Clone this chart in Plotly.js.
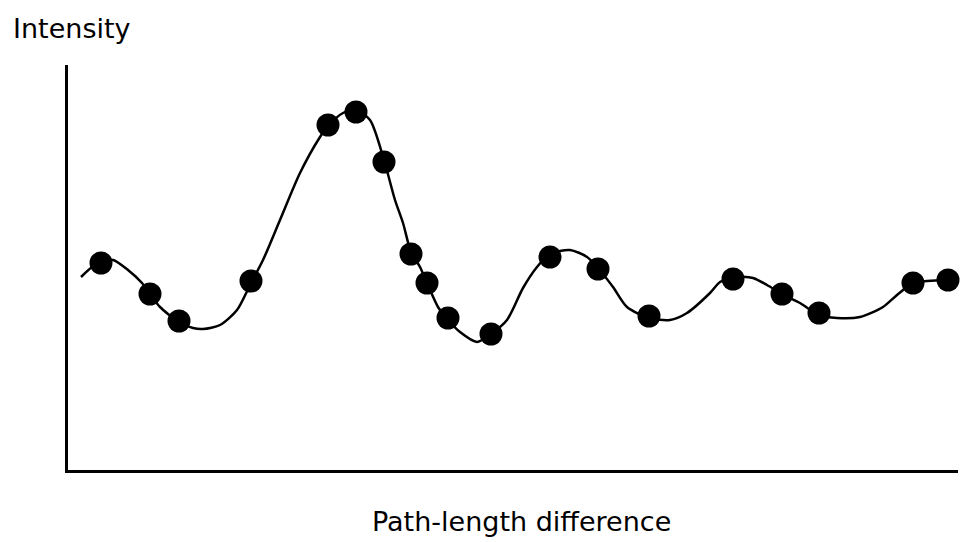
<!DOCTYPE html>
<html>
<head>
<meta charset="utf-8">
<script src="https://cdn.plot.ly/plotly-3.0.1.min.js"></script>
<style>html,body{margin:0;padding:0;background:#fff;}#chart{width:960px;height:542px;}</style>
</head>
<body>
<div id="chart"></div>
<script>
// Measured intensity points (arbitrary units)
const pointX = [33, 82, 111, 183, 260, 288, 316, 343, 359, 380, 423, 482, 530, 581, 665, 714, 751, 845, 880];
const pointY = [207, 176, 149, 189, 345, 358, 308, 216, 187, 152, 136, 213, 201, 154, 191, 176, 157, 187, 190];

// Smooth fitted curve
const curveX = [13, 24, 33, 45, 60, 74, 82, 92, 111, 125, 135, 152, 169, 183, 195, 212, 232, 252, 260, 275,
                288, 302, 316, 327, 335, 343, 352, 359, 370, 380, 392, 409, 423, 439, 455, 469, 482, 502, 519, 530,
                545, 559, 581, 602, 619, 642, 652, 665, 685, 699, 714, 732, 751, 769, 792, 815, 829, 845, 859, 880, 890];
const curveY = [193, 203, 208, 210, 200, 187, 176, 163, 148, 142, 141, 145, 160, 187, 210, 250, 297, 333, 344, 357,
                360, 350, 310, 270, 247, 218, 203, 187, 163, 150, 138, 128, 136, 150, 182, 203, 216, 220, 213, 202,
                183, 163, 152, 150, 157, 177, 188, 193, 192, 185, 176, 167, 155, 152, 153, 163, 175, 187, 189, 190, 190];

const yTitle = "Intensity";
const xTitle = "Path-length difference";

const font = {family: "DejaVu Sans, Arial, sans-serif", size: 27, color: "#000"};

const data = [
  {x: curveX, y: curveY, type: "scatter", mode: "lines",
   line: {color: "#000", width: 2.5, shape: "spline", smoothing: 0.75},
   hoverinfo: "skip", cliponaxis: false},
  {x: pointX, y: pointY, type: "scatter", mode: "markers",
   marker: {color: "#000", size: 23}, cliponaxis: false}
];

const layout = {
  width: 960, height: 542,
  margin: {l: 68, r: 2, t: 65, b: 72},
  paper_bgcolor: "#fff", plot_bgcolor: "#fff",
  showlegend: false,
  xaxis: {range: [0, 890], showline: true, linecolor: "#000", linewidth: 3,
          showgrid: false, zeroline: false, showticklabels: false, ticks: ""},
  yaxis: {range: [0, 405], showline: true, linecolor: "#000", linewidth: 3,
          showgrid: false, zeroline: false, showticklabels: false, ticks: ""},
  annotations: [
    {text: yTitle, xref: "paper", yref: "paper", x: -0.064, y: 1.089,
     xanchor: "left", yanchor: "middle", showarrow: false, font: font},
    {text: xTitle, xref: "paper", yref: "paper", x: 0.5096, y: -0.128,
     xanchor: "center", yanchor: "middle", showarrow: false, font: font}
  ]
};

Plotly.newPlot("chart", data, layout, {displayModeBar: false, staticPlot: true});
</script>
</body>
</html>
